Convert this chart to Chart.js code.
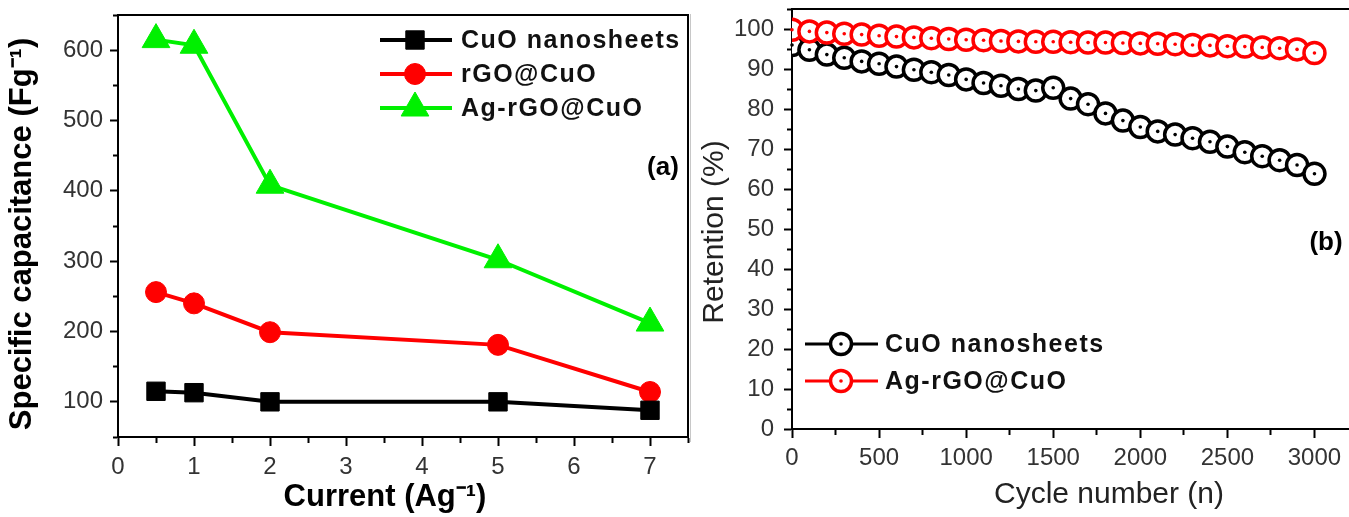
<!DOCTYPE html>
<html>
<head>
<meta charset="utf-8">
<script src="https://cdn.jsdelivr.net/npm/chart.js@4.4.0/dist/chart.umd.min.js"></script>
<style>
html, body { margin: 0; padding: 0; background: #fff; }
#wrap { position: relative; width: 1349px; height: 517px; overflow: hidden; }
#capChart { position: absolute; left: 0; top: 0; }
#cycChart { position: absolute; left: 690px; top: 0; }
</style>
</head>
<body>
<div id="wrap">
  <canvas id="capChart" width="690" height="517"></canvas>
  <canvas id="cycChart" width="668" height="517"></canvas>
</div>
<script>
// (a) specific capacitance vs current density
var currents = [0.5, 1, 2, 5, 7];
var cuoCap = [115, 113, 100, 100, 88];
var rgoCap = [256, 240, 199, 181, 114];
var agCap = [615, 607, 408, 302, 212];

// (b) retention vs cycle number
var cycles = [0, 100, 200, 300, 400, 500, 600, 700, 800, 900, 1000,
  1100, 1200, 1300, 1400, 1500, 1600, 1700, 1800, 1900, 2000,
  2100, 2200, 2300, 2400, 2500, 2600, 2700, 2800, 2900, 3000];
var cuoRet = [96, 94.8, 93.6, 92.8, 91.9, 91.3, 90.6, 89.8, 89.2, 88.5, 87.4,
  86.5, 85.8, 85.0, 84.6, 85.3, 82.6, 81.2, 78.9, 77.1, 75.5,
  74.4, 73.6, 72.7, 71.8, 70.6, 69.2, 68.2, 67.2, 66.0, 63.8];
var agRet = [99.8, 99.4, 99.1, 98.8, 98.6, 98.3, 98.1, 97.9, 97.7, 97.5, 97.3,
  97.2, 97.0, 96.9, 96.8, 96.8, 96.7, 96.6, 96.6, 96.5, 96.4,
  96.3, 96.2, 96.0, 95.9, 95.7, 95.6, 95.4, 95.2, 94.9, 94.0];

var xLabelsA = ['0', '1', '2', '3', '4', '5', '6', '7'];
var yLabelsA = ['100', '200', '300', '400', '500', '600'];

var FONT = '"Liberation Sans", Arial, sans-serif';

function pts(xs, ys) {
  return xs.map(function (x, i) { return { x: x, y: ys[i] }; });
}

// frame lines on top / right of plot
var framePlugin = {
  id: 'frame',
  afterDraw: function (chart, args, opts) {
    var ctx = chart.ctx, a = chart.chartArea;
    ctx.save();
    ctx.strokeStyle = '#000';
    ctx.lineWidth = 2;
    ctx.beginPath();
    ctx.moveTo(a.left, a.top);
    ctx.lineTo(opts.right ? a.right : chart.width, a.top);
    if (opts.right) ctx.lineTo(a.right, a.bottom);
    ctx.stroke();
    if (opts.sep) {
      ctx.strokeStyle = '#c8c8c8';
      ctx.lineWidth = 1;
      ctx.beginPath();
      ctx.moveTo(0.5, 14);
      ctx.lineTo(0.5, 442);
      ctx.stroke();
    }
    ctx.restore();
  }
};

// axis titles and panel letters
var captionPlugin = {
  id: 'captions',
  afterDraw: function (chart, args, opts) {
    var ctx = chart.ctx;
    opts.items.forEach(function (it) {
      ctx.save();
      ctx.font = it.font;
      ctx.fillStyle = it.color || '#000';
      ctx.textAlign = 'center';
      ctx.textBaseline = 'middle';
      ctx.translate(it.x, it.y);
      if (it.rotate) ctx.rotate(-Math.PI / 2);
      ctx.fillText(it.text, 0, 0);
      ctx.restore();
    });
  }
};

function marker(ctx, ds, x, y) {
  ctx.fillStyle = ds.pointBackgroundColor || ds.backgroundColor;
  ctx.strokeStyle = ds.borderColor;
  ctx.lineWidth = ds.pointBorderWidth;
  Chart.helpers.drawPoint(ctx, {
    pointStyle: ds.pointStyle,
    radius: ds.pointRadius,
    borderWidth: ds.pointBorderWidth,
    rotation: 0
  }, x, y);
  if (ds.centerDot) {
    ctx.beginPath();
    ctx.fillStyle = ds.borderColor;
    ctx.arc(x, y, 1.8, 0, Math.PI * 2);
    ctx.fill();
  }
}

var legendPlugin = {
  id: 'boxLegend',
  afterDraw: function (chart, args, opts) {
    var ctx = chart.ctx;
    opts.rows.forEach(function (row) {
      var ds = chart.data.datasets[row.index];
      ctx.save();
      ctx.strokeStyle = ds.borderColor;
      ctx.lineWidth = ds.borderWidth;
      ctx.beginPath();
      ctx.moveTo(opts.x1, row.y);
      ctx.lineTo(opts.x2, row.y);
      ctx.stroke();
      marker(ctx, ds, opts.mx, row.y);
      ctx.font = opts.font;
      ctx.letterSpacing = '1.5px';
      ctx.fillStyle = '#111';
      ctx.textAlign = 'left';
      ctx.textBaseline = 'middle';
      ctx.fillText(ds.label, opts.tx, row.y + 1);
      ctx.restore();
    });
  }
};

// small dot in the centre of every open circle
var dotPlugin = {
  id: 'centerDots',
  afterDatasetsDraw: function (chart) {
    var ctx = chart.ctx;
    chart.data.datasets.forEach(function (ds, i) {
      if (!ds.centerDot) return;
      chart.getDatasetMeta(i).data.forEach(function (p) {
        ctx.save();
        ctx.fillStyle = ds.borderColor;
        ctx.beginPath();
        ctx.arc(p.x, p.y, 1.8, 0, Math.PI * 2);
        ctx.fill();
        ctx.restore();
      });
    });
  }
};

// major ticks 8px, minor ticks 5px; x ticks are drawn long and dashed short
// so the labels can sit below them with zero label padding
function tickGrid(majorEvery, len) {
  return {
    drawOnChartArea: false,
    drawTicks: true,
    tickLength: len,
    tickWidth: 2,
    tickColor: '#000',
    tickBorderDash: function (c) {
      var v = c.tick ? c.tick.value : 0;
      var r = v / majorEvery;
      var major = Math.abs(r - Math.round(r)) < 1e-6;
      if (c.scale.isHorizontal()) return major ? [8, 100] : [5, 100];
      return major ? [] : [0, len - 5, 5, 100];
    }
  };
}

function fixX(h) {
  return function (s) { s.height = h; s.paddingLeft = 0; s.paddingRight = 0; };
}
function fixY(w) {
  return function (s) { s.width = w; s.paddingTop = 0; s.paddingBottom = 0; };
}

// ---------- chart (a) ----------
new Chart(document.getElementById('capChart'), {
  type: 'line',
  data: {
    datasets: [{
      label: 'CuO nanosheets',
      data: pts(currents, cuoCap),
      borderColor: '#000',
      backgroundColor: '#000',
      borderWidth: 4,
      pointStyle: 'rect',
      pointRadius: 13,
      pointBorderWidth: 1
    }, {
      label: 'rGO@CuO',
      data: pts(currents, rgoCap),
      borderColor: '#ff0000',
      backgroundColor: '#ff0000',
      borderWidth: 4,
      pointStyle: 'circle',
      pointRadius: 10.5,
      pointBorderWidth: 1
    }, {
      label: 'Ag-rGO@CuO',
      data: pts(currents, agCap),
      borderColor: '#00f000',
      backgroundColor: '#00f000',
      borderWidth: 4,
      pointStyle: 'triangle',
      pointRadius: 16,
      pointBorderWidth: 1
    }]
  },
  options: {
    responsive: false,
    animation: false,
    devicePixelRatio: 1,
    layout: { autoPadding: false, padding: { top: 15, right: 2, left: 0, bottom: 0 } },
    plugins: {
      legend: { display: false },
      tooltip: { enabled: false },
      frame: { right: true },
      boxLegend: {
        x1: 380, x2: 452, mx: 415, tx: 461,
        font: 'bold 25px ' + FONT,
        rows: [{ index: 0, y: 40 }, { index: 1, y: 74 }, { index: 2, y: 108 }]
      },
      captions: {
        items: [
          { text: 'Specific capacitance (Fg\u207B\u00B9)', x: 22, y: 234, rotate: true, font: 'bold 31px ' + FONT },
          { text: 'Current (Ag\u207B\u00B9)', x: 385, y: 497, font: 'bold 31px ' + FONT },
          { text: '(a)', x: 663, y: 168, font: 'bold 26px ' + FONT }
        ]
      }
    },
    scales: {
      x: {
        type: 'linear',
        min: 0, max: 7.5,
        afterFit: fixX(80),
        border: { color: '#000', width: 2 },
        grid: tickGrid(1, 16),
        ticks: {
          stepSize: 0.5, autoSkip: false, maxRotation: 0, includeBounds: false, maxTicksLimit: 100,
          padding: 0, color: '#333', font: { family: FONT, size: 24 },
          callback: function (v) {
            return Number.isInteger(v) ? xLabelsA[v] : '';
          }
        }
      },
      y: {
        min: 50, max: 650,
        afterFit: fixY(118),
        border: { color: '#000', width: 2 },
        grid: tickGrid(100, 8),
        ticks: {
          stepSize: 50, autoSkip: false, includeBounds: false, maxTicksLimit: 100,
          padding: 7, color: '#333', font: { family: FONT, size: 24 },
          callback: function (v) {
            return v % 100 === 0 ? yLabelsA[v / 100 - 1] : '';
          }
        }
      }
    }
  },
  plugins: [framePlugin, legendPlugin, captionPlugin]
});

// ---------- chart (b) ----------
new Chart(document.getElementById('cycChart'), {
  type: 'line',
  data: {
    datasets: [{
      label: 'CuO nanosheets',
      data: pts(cycles, cuoRet),
      borderColor: '#000',
      backgroundColor: '#fff',
      pointBackgroundColor: '#fff',
      borderWidth: 3,
      pointStyle: 'circle',
      pointRadius: 10.5,
      pointBorderWidth: 3.5,
      centerDot: true,
      order: 1,
      clip: 0
    }, {
      label: 'Ag-rGO@CuO',
      data: pts(cycles, agRet),
      borderColor: '#ff0000',
      backgroundColor: '#fff',
      pointBackgroundColor: '#fff',
      borderWidth: 3,
      pointStyle: 'circle',
      pointRadius: 10.5,
      pointBorderWidth: 3.5,
      centerDot: true,
      order: 0,
      clip: 0
    }]
  },
  options: {
    responsive: false,
    animation: false,
    devicePixelRatio: 1,
    layout: { autoPadding: false, padding: { top: 9, right: 0, left: 0, bottom: 0 } },
    plugins: {
      legend: { display: false },
      tooltip: { enabled: false },
      frame: { right: false, sep: true },
      boxLegend: {
        x1: 115, x2: 188, mx: 151, tx: 195,
        font: 'bold 25px ' + FONT,
        rows: [{ index: 0, y: 344 }, { index: 1, y: 381 }]
      },
      captions: {
        items: [
          { text: 'Retention (%)', x: 25, y: 232, rotate: true, font: '30px ' + FONT, color: '#222' },
          { text: 'Cycle number (n)', x: 419, y: 495, font: '30px ' + FONT, color: '#222' },
          { text: '(b)', x: 636, y: 243, font: 'bold 26px ' + FONT }
        ]
      }
    },
    scales: {
      x: {
        type: 'linear',
        min: 0, max: 3250,
        afterFit: fixX(88),
        border: { color: '#000', width: 2 },
        grid: tickGrid(500, 15),
        ticks: {
          stepSize: 250, autoSkip: false, maxRotation: 0, includeBounds: false, maxTicksLimit: 100,
          padding: 0, color: '#333', font: { family: FONT, size: 24 },
          callback: function (v) { return v % 500 === 0 ? String(v) : ''; }
        }
      },
      y: {
        min: 0, max: 105,
        afterFit: fixY(102),
        border: { color: '#000', width: 2 },
        grid: tickGrid(10, 8),
        ticks: {
          stepSize: 5, autoSkip: false, includeBounds: false, maxTicksLimit: 100,
          padding: 10, color: '#333', font: { family: FONT, size: 24 },
          callback: function (v) { return v % 10 === 0 ? String(v) : ''; }
        }
      }
    }
  },
  plugins: [framePlugin, dotPlugin, legendPlugin, captionPlugin]
});
</script>
</body>
</html>
